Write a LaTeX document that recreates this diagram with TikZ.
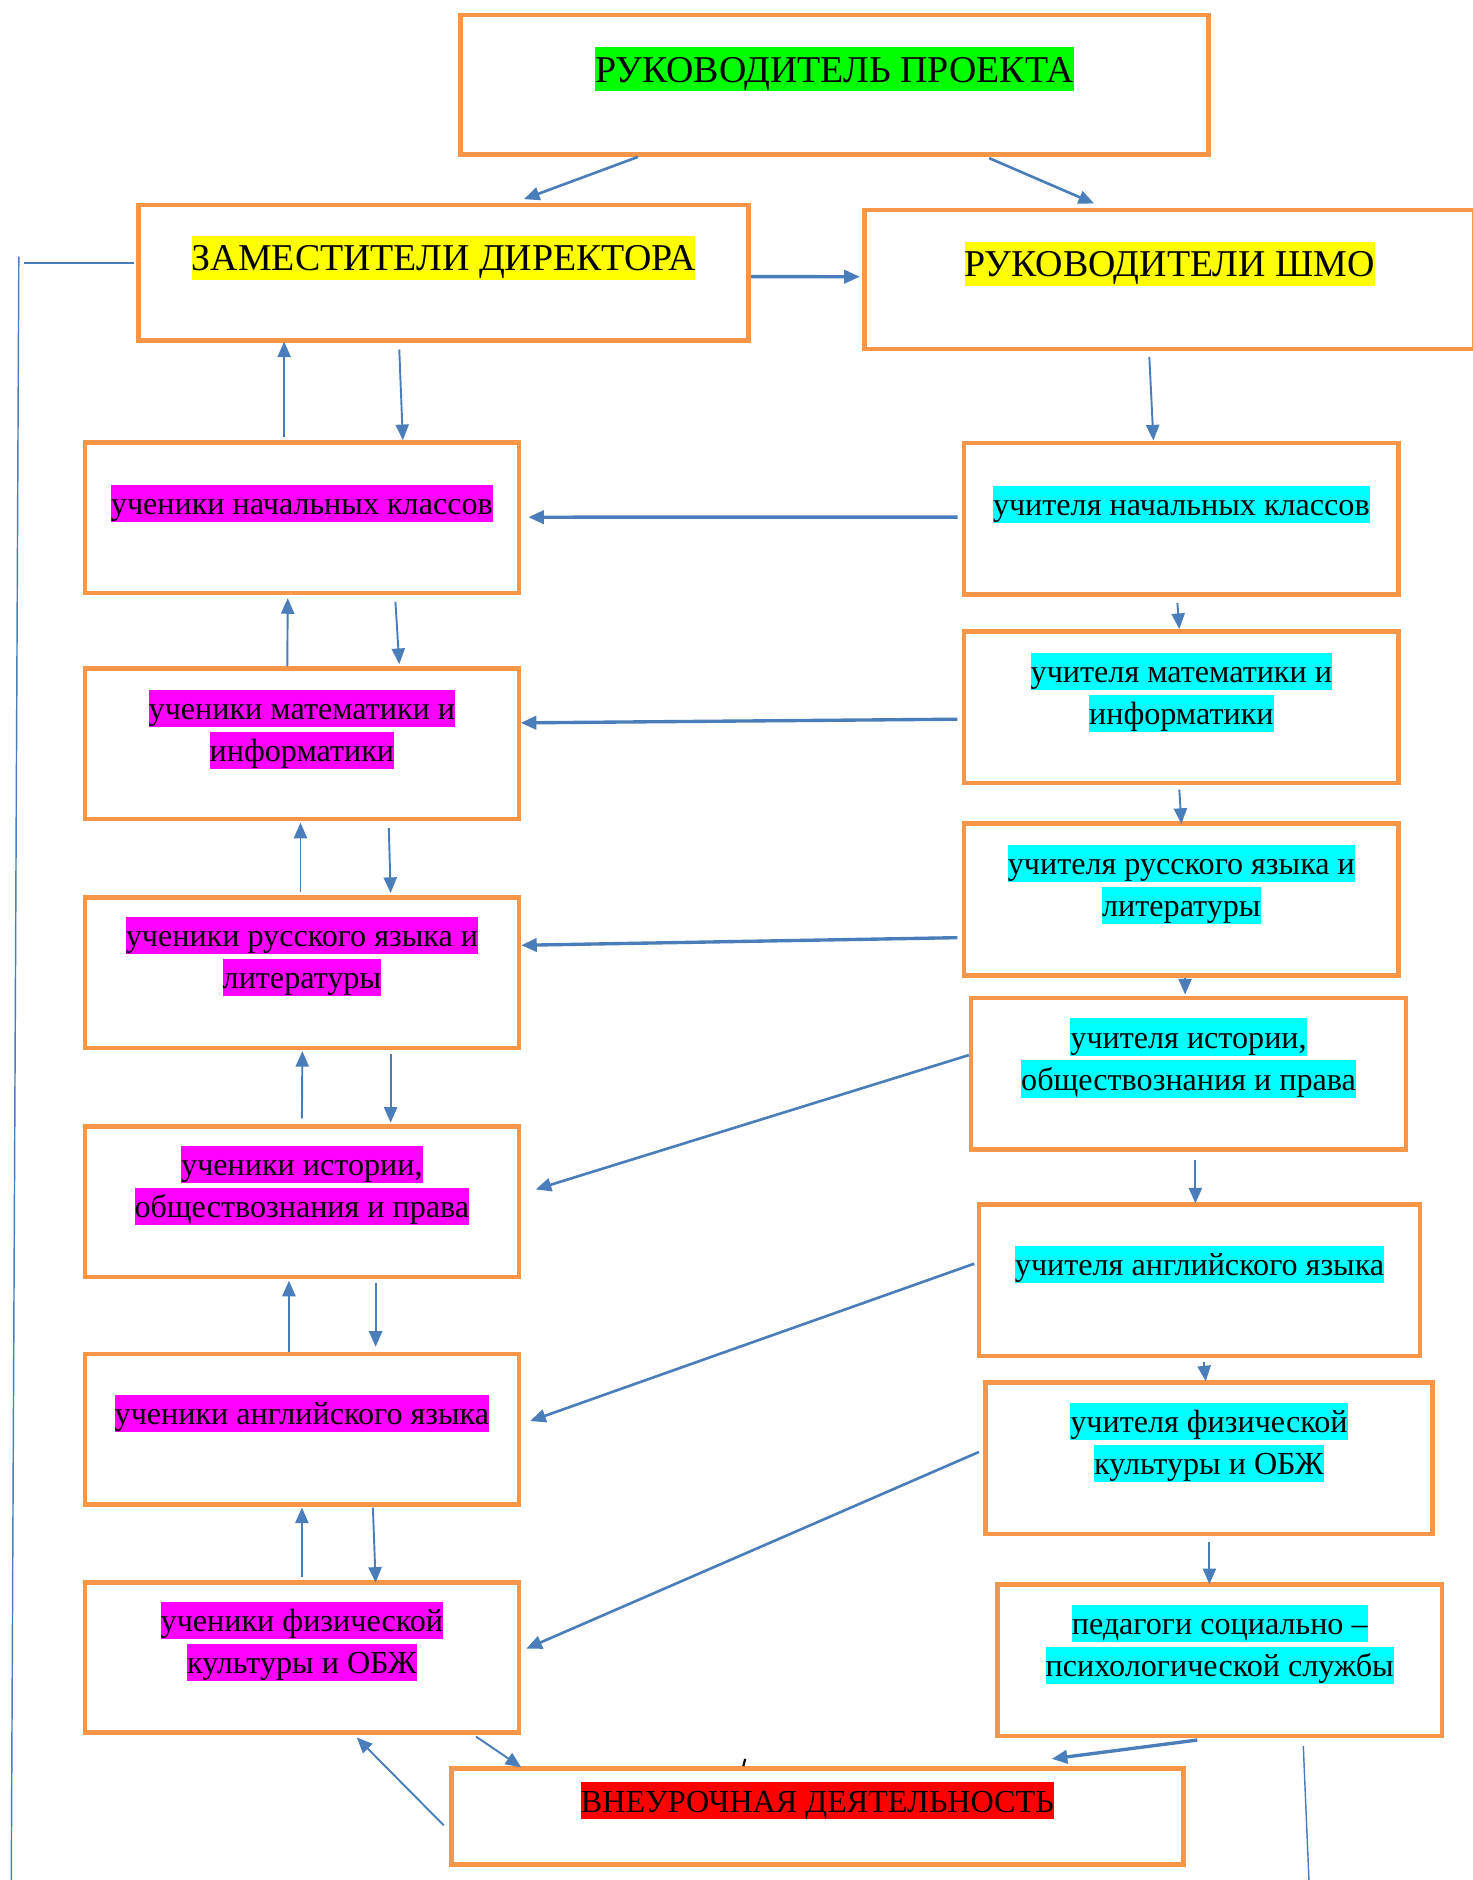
\documentclass[tikz,border=0pt]{standalone}
\usepackage{fontspec}
\setmainfont{Liberation Serif}
\usetikzlibrary{positioning, arrows.meta}

\definecolor{boxorange}{HTML}{F79646}
\definecolor{linkblue}{HTML}{4A7EBB}
\definecolor{hlgreen}{HTML}{00FF00}
\definecolor{hlyellow}{HTML}{FFFF00}
\definecolor{hlmagenta}{HTML}{FF00FF}
\definecolor{hlcyan}{HTML}{00FFFF}
\definecolor{hlred}{HTML}{FF0000}

\setlength{\fboxsep}{0pt}
\newcommand{\hl}[2]{\colorbox{#1}{\rule[-0.23em]{0pt}{1.16em}#2}}

\begin{document}
\begin{tikzpicture}[
    x=0.5pt, y=-0.5pt,
    box/.style={rectangle, draw=boxorange, line width=1.9pt, inner sep=0pt},
    lbox/.style={box, minimum width=181pt, minimum height=62.75pt},
    rbox/.style={box, minimum height=63.2pt},
    txt/.style={inner sep=0pt, align=center, yshift=-1pt, font=\fontsize{13.4pt}{17.5pt}\selectfont},
    head/.style={txt, font=\fontsize{15.8pt}{20pt}\selectfont},
    arrow/.style={draw=linkblue, line width=0.8pt, -{Triangle[length=6.5pt, width=5.5pt]}},
    wide_arrow/.style={arrow, line width=1.1pt},
    thick_arrow/.style={arrow, line width=1.4pt},
    line/.style={draw=linkblue, line width=0.6pt}
]
    \path[fill=white, use as bounding box] (0,0) rectangle (1228,1568);

    % --- Top level ---
    \node[box, minimum width=312pt, minimum height=58.25pt] (ruk) at (696,70.75) {};
    \node[head, below=13.25pt of ruk.north] (ruk_text) {\hl{hlgreen}{РУКОВОДИТЕЛЬ ПРОЕКТА}};

    \node[box, minimum width=254.5pt, minimum height=56.5pt] (zam) at (370,227.5) {};
    \node[head, below=12.5pt of zam.north] (zam_text) {\hl{hlyellow}{ЗАМЕСТИТЕЛИ ДИРЕКТОРА}};

    \node[box, minimum width=254.5pt, minimum height=58pt] (shmo) at (975.5,233) {};
    \node[head, below=13pt of shmo.north] (shmo_text) {\hl{hlyellow}{РУКОВОДИТЕЛИ ШМО}};

    % --- Pupils (left column) ---
    \node[lbox] (l1) at (251.8,431.75) {};
    \node[txt, below=17.4pt of l1.north] (l1_text) {\hl{hlmagenta}{ученики начальных классов}};
    \node[lbox] (l2) at (251.8,620.5) {};
    \node[txt, below=8.5pt of l2.north] (l2_text) {\hl{hlmagenta}{ученики математики и}\\\hl{hlmagenta}{информатики}};
    \node[lbox] (l3) at (251.8,811.2) {};
    \node[txt, below=7.9pt of l3.north] (l3_text) {\hl{hlmagenta}{ученики русского языка и}\\\hl{hlmagenta}{литературы}};
    \node[lbox] (l4) at (251.8,1002.2) {};
    \node[txt, below=7.8pt of l4.north] (l4_text) {\hl{hlmagenta}{ученики истории,}\\\hl{hlmagenta}{обществознания и права}};
    \node[lbox] (l5) at (251.8,1192) {};
    \node[txt, below=16.7pt of l5.north] (l5_text) {\hl{hlmagenta}{ученики английского языка}};
    \node[lbox] (l6) at (251.8,1382.4) {};
    \node[txt, below=7.8pt of l6.north] (l6_text) {\hl{hlmagenta}{ученики физической}\\\hl{hlmagenta}{культуры и ОБЖ}};

    % --- Teachers (right column) ---
    \node[rbox, minimum width=181.25pt] (r1) at (985.3,432.5) {};
    \node[txt, below=17.8pt of r1.north] (r1_text) {\hl{hlcyan}{учителя начальных классов}};
    \node[rbox, minimum width=181.25pt] (r2) at (985.3,589.75) {};
    \node[txt, below=8.75pt of r2.north] (r2_text) {\hl{hlcyan}{учителя математики и}\\\hl{hlcyan}{информатики}};
    \node[rbox, minimum width=181.25pt] (r3) at (985.3,750.25) {};
    \node[txt, below=8.5pt of r3.north] (r3_text) {\hl{hlcyan}{учителя русского языка и}\\\hl{hlcyan}{литературы}};
    \node[rbox, minimum width=181.35pt] (r4) at (991.3,895.7) {};
    \node[txt, below=8.15pt of r4.north] (r4_text) {\hl{hlcyan}{учителя истории,}\\\hl{hlcyan}{обществознания и права}};
    \node[rbox, minimum width=184pt] (r5) at (1000.5,1067.75) {};
    \node[txt, below=17pt of r5.north] (r5_text) {\hl{hlcyan}{учителя английского языка}};
    \node[rbox, minimum width=186.35pt] (r6) at (1008.3,1216.2) {};
    \node[txt, below=8.3pt of r6.north] (r6_text) {\hl{hlcyan}{учителя физической}\\\hl{hlcyan}{культуры и ОБЖ}};
    \node[rbox, minimum width=185.3pt] (r7) at (1017.3,1384.75) {};
    \node[txt, below=8.2pt of r7.north] (r7_text) {\hl{hlcyan}{педагоги социально –}\\\hl{hlcyan}{психологической службы}};

    % --- Bottom ---
    \node[box, minimum width=305.35pt, minimum height=40pt] (bot) at (681.7,1514.85) {};
    \node[txt, below=5.5pt of bot.north] (bot_text) {\hl{hlred}{ВНЕУРОЧНАЯ ДЕЯТЕЛЬНОСТЬ}};
    \draw[line width=0.9pt] (620,1473) -- (621.5,1467);

    % --- Free ends of the side lines ---
    \coordinate (left_h) at (19.6,219);
    \coordinate (left_top) at (15.7,214);
    \coordinate (left_bot) at (9.4,1570);
    \coordinate (right_bot) at (1091.8,1570);

    % --- Top connections ---
    \draw[wide_arrow] ([xshift=-82pt]ruk.south) -- ([xshift=33.5pt,yshift=1.5pt]zam.north);
    \draw[wide_arrow] ([xshift=64.5pt,yshift=-0.5pt]ruk.south) -- ([xshift=-31.5pt,yshift=1.7pt]shmo.north);
    \draw[thick_arrow] ([yshift=-1.6pt]zam.east) -- ([xshift=-1pt,yshift=1.1pt]shmo.west);
    \draw[line, line width=0.8pt] ([xshift=-1pt,yshift=4.25pt]zam.west) -- (left_h);
    \draw[line] (left_top) -- (left_bot);

    % --- Left column, up and down ---
    \draw[arrow] ([xshift=-7.4pt,yshift=1.5pt]l1.north) -- ([xshift=-66.5pt,yshift=0.5pt]zam.south);
    \draw[arrow] ([xshift=-18.5pt,yshift=-2.8pt]zam.south) -- ([xshift=42.1pt]l1.north);
    \draw[arrow] ([xshift=-6.1pt]l2.north) -- ([xshift=-5.9pt,yshift=-1.25pt]l1.south);
    \draw[arrow] ([xshift=39pt,yshift=-2.75pt]l1.south) -- ([xshift=40.6pt,yshift=1pt]l2.north);
    \draw[arrow] ([xshift=-0.6pt,yshift=1.25pt]l3.north) -- ([xshift=-0.6pt,yshift=-0.5pt]l2.south);
    \draw[arrow] ([xshift=36.25pt,yshift=-2.75pt]l2.south) -- ([xshift=37pt,yshift=0.9pt]l3.north);
    \draw[arrow] ([yshift=2.35pt]l4.north) -- ([xshift=0.2pt,yshift=-0.4pt]l3.south);
    \draw[arrow] ([xshift=37pt,yshift=-1.7pt]l3.south) -- ([xshift=37pt,yshift=0.6pt]l4.north);
    \draw[arrow] ([xshift=-5.4pt]l5.north) -- ([xshift=-5.4pt,yshift=-0.65pt]l4.south);
    \draw[arrow] ([xshift=30.75pt,yshift=-1.55pt]l4.south) -- ([xshift=30.75pt,yshift=2.05pt]l5.north);
    \draw[arrow] ([yshift=1.35pt]l6.north) -- ([yshift=-0.35pt]l5.south);
    \draw[arrow] ([xshift=29.6pt,yshift=-0.35pt]l5.south) -- ([xshift=30.75pt,yshift=-1.15pt]l6.north);
    \draw[arrow] ([xshift=72.6pt,yshift=-0.65pt]l6.south) -- ([xshift=-123.5pt,yshift=-0.5pt]bot.north);
    \draw[arrow] ([xshift=-2.15pt,yshift=-3.8pt]bot.west) -- ([xshift=22.9pt,yshift=-1.05pt]l6.south);

    % --- Right column, down ---
    \draw[arrow] ([xshift=-8.45pt,yshift=-2.5pt]shmo.south) -- ([xshift=-11.65pt]r1.north);
    \draw[arrow] ([xshift=-1.65pt,yshift=-2.7pt]r1.south) -- ([xshift=-0.85pt]r2.north);
    \draw[arrow] ([xshift=-0.85pt,yshift=-1.85pt]r2.south) -- ([yshift=-1pt]r3.north);
    \draw[arrow] ([xshift=1.55pt]r3.south) -- ([xshift=-1.45pt,yshift=0.6pt]r4.north);
    \draw[arrow] ([xshift=2.85pt,yshift=-3.3pt]r4.south) -- ([xshift=-1.75pt,yshift=-0.5pt]r5.north);
    \draw[arrow] ([xshift=1.75pt,yshift=-1.55pt]r5.south) -- ([xshift=-1.35pt,yshift=-0.5pt]r6.north);
    \draw[arrow] ([xshift=0.2pt,yshift=-2.35pt]r6.south) -- ([xshift=-4.3pt,yshift=-0.8pt]r7.north);
    \draw[thick_arrow] ([xshift=-9.35pt,yshift=-0.7pt]r7.south) -- ([xshift=97.75pt,yshift=3pt]bot.north);
    \draw[line] ([xshift=34.85pt,yshift=-3.2pt]r7.south) -- (right_bot);

    % --- Teachers to pupils ---
    \draw[thick_arrow] ([xshift=-1.7pt,yshift=0.6pt]r1.west) -- ([xshift=2.95pt,yshift=0.2pt]l1.east);
    \draw[thick_arrow] ([xshift=-1.8pt,yshift=-5.05pt]r2.west) -- ([xshift=-0.2pt,yshift=8.8pt]l2.east);
    \draw[thick_arrow] ([xshift=-1.8pt,yshift=-15.9pt]r3.west) -- ([yshift=11.4pt]l3.east);
    \draw[wide_arrow] ([yshift=7.85pt]r4.west) -- ([xshift=6.05pt,yshift=5.1pt]l4.east);
    \draw[wide_arrow] ([xshift=-1pt,yshift=6.9pt]r5.west) -- ([xshift=3.75pt,yshift=3.4pt]l5.east);
    \draw[wide_arrow] ([xshift=-1.8pt,yshift=2.6pt]r6.west) -- ([xshift=2.15pt,yshift=3.7pt]l6.east);
\end{tikzpicture}
\end{document}
